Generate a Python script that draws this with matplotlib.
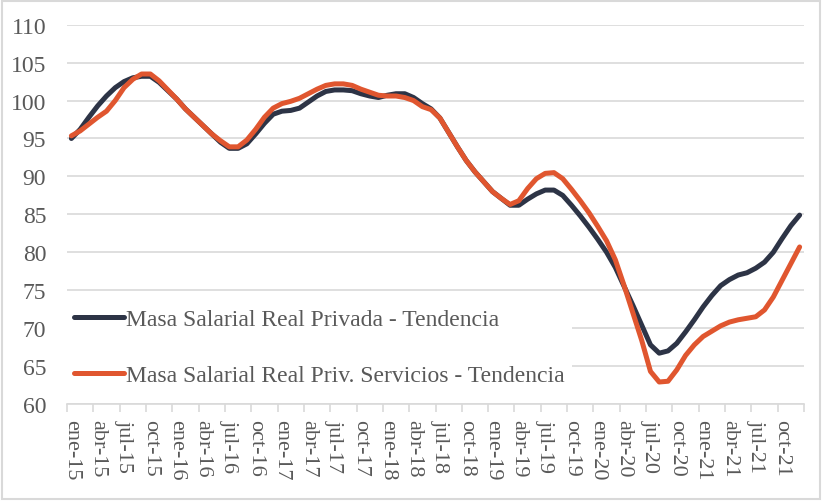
import matplotlib
matplotlib.use("Agg")
from matplotlib import pyplot as plt
from matplotlib.patches import Rectangle
import numpy as np

# meses ene-15 .. dic-21
meses = ["ene", "feb", "mar", "abr", "may", "jun", "jul", "ago", "sep", "oct", "nov", "dic"]
fechas = [f"{m}-{a}" for a in range(15, 22) for m in meses]

privada = [95.0, 96.2, 97.8, 99.3, 100.6, 101.7, 102.5, 103.0, 103.2, 103.2,
           102.4, 101.3, 100.2, 98.9, 97.8, 96.7, 95.6, 94.5, 93.7, 93.7,
           94.3, 95.6, 97.0, 98.2, 98.6, 98.7, 99.0, 99.8, 100.6, 101.2,
           101.4, 101.4, 101.3, 100.9, 100.6, 100.4, 100.7, 100.9, 100.9, 100.4,
           99.6, 98.9, 97.7, 95.8, 93.9, 92.1, 90.6, 89.3, 88.0, 87.1,
           86.2, 86.2, 87.0, 87.7, 88.2, 88.2, 87.5, 86.2, 84.8, 83.3,
           81.7, 80.0, 78.0, 75.5, 73.0, 70.4, 67.8, 66.7, 67.0, 68.0,
           69.5, 71.1, 72.8, 74.3, 75.6, 76.4, 77.0, 77.3, 77.9, 78.7,
           80.0, 81.8, 83.5, 84.9]

servicios = [95.35, 96.0, 96.9, 97.8, 98.6, 100.0, 101.7, 102.8, 103.5, 103.5,
             102.6, 101.4, 100.2, 98.9, 97.8, 96.7, 95.6, 94.7, 93.9, 93.9,
             94.8, 96.2, 97.8, 99.0, 99.6, 99.9, 100.3, 100.9, 101.5, 102.0,
             102.2, 102.2, 102.0, 101.5, 101.1, 100.7, 100.6, 100.6, 100.4, 100.0,
             99.2, 98.8, 97.7, 95.8, 93.9, 92.1, 90.6, 89.3, 88.0, 87.1,
             86.3, 86.8, 88.4, 89.7, 90.4, 90.5, 89.7, 88.3, 86.8, 85.2,
             83.4, 81.5, 79.0, 75.6, 72.0, 68.4, 64.3, 62.9, 63.0, 64.5,
             66.4, 67.8, 68.9, 69.6, 70.3, 70.8, 71.1, 71.3, 71.5, 72.4,
             74.1, 76.3, 78.5, 80.7]

etiquetas = ["Masa Salarial Real Privada - Tendencia",
             "Masa Salarial Real Priv. Servicios - Tendencia"]

plt.rcParams['font.family'] = ['Liberation Serif', 'DejaVu Serif']
gris = "#595959"

fig = plt.figure(figsize=(8.22, 5.02), dpi=100)
ax = fig.add_axes([67/822, 1-405/502, (804-67)/822, (405-25.7)/502])

x = np.arange(len(fechas))
ax.plot(x, privada, color="#2D3446", lw=3.6, solid_capstyle="round", label=etiquetas[0])
ax.plot(x, servicios, color="#E0562F", lw=3.6, solid_capstyle="round", label=etiquetas[1])

ax.set_xlim(-0.5, len(fechas) - 0.5)
ax.set_ylim(60, 110)
ax.set_yticks(range(60, 111, 5))
ax.yaxis.grid(True, color="#D9D9D9", lw=1.2)
ax.set_axisbelow(True)

ax.set_xticks(x[::3])
ax.set_xticklabels(fechas[::3], rotation=-90, fontsize=16, color=gris)
ax.set_xticks(np.arange(-0.5, len(fechas), 3), minor=True)
ax.tick_params(axis="x", which="major", length=0, pad=11)
ax.tick_params(axis="x", which="minor", length=6, color="#D9D9D9", width=1.2)
ax.tick_params(axis="y", length=0, pad=15, labelsize=17, labelcolor=gris)

for s in ["top", "right", "left"]:
    ax.spines[s].set_visible(False)
ax.spines["bottom"].set_color("#D9D9D9")
ax.spines["bottom"].set_linewidth(1.2)

leg = ax.legend(loc="center left", bbox_to_anchor=(0.0, 0.149), borderaxespad=0,
                frameon=True, fontsize=17, handlelength=2.1, labelspacing=1.47,
                borderpad=0.3, handletextpad=0.1, labelcolor=gris)
leg.get_frame().set_edgecolor("none")
leg.get_frame().set_facecolor("white")
leg.get_frame().set_alpha(1)

fig.patches.append(Rectangle((0.002, 0.003), 0.996, 0.994, transform=fig.transFigure,
                             fill=False, edgecolor="#D9D9D9", lw=1.5))

fig.savefig("out.png", dpi=100)
